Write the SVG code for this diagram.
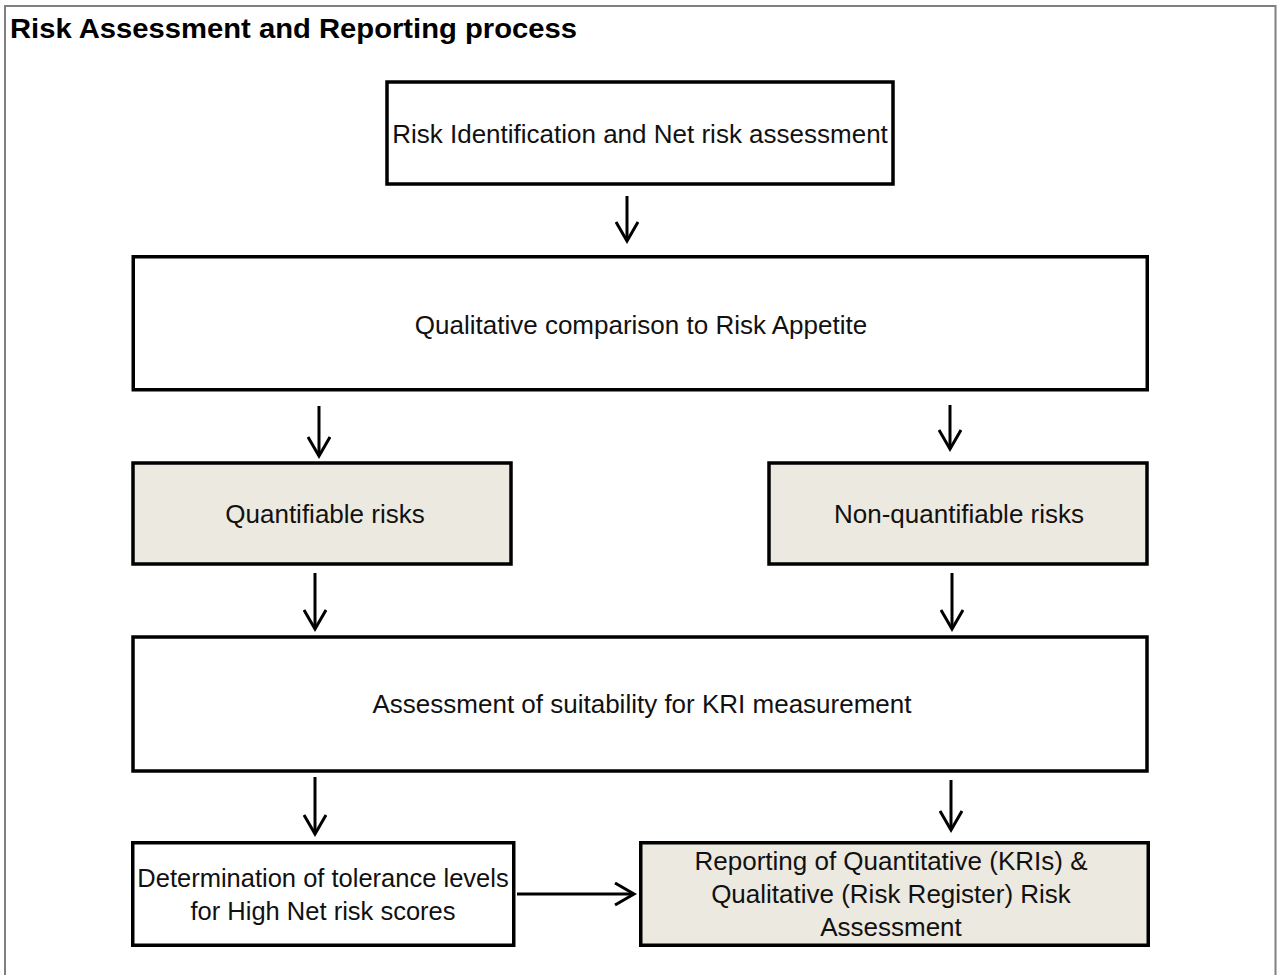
<svg xmlns="http://www.w3.org/2000/svg" width="1277" height="975" viewBox="0 0 1277 975">
<defs>
<style>
.frame{fill:#fff;stroke:#808080;stroke-width:2}
.box{fill:#fff;stroke:#000;stroke-width:3.5}
.shade{fill:#ECE9E0}
.t{font-family:"Liberation Sans",Arial,sans-serif;font-size:26px;fill:#111;text-anchor:middle}
.title{font-family:"Liberation Sans",Arial,sans-serif;font-size:28.5px;font-weight:bold;fill:#000}
.c{stroke:#000;stroke-width:3;fill:none}
</style>
<marker id="ah" viewBox="0 0 24 24" refX="20" refY="12" markerWidth="24" markerHeight="24" markerUnits="userSpaceOnUse" orient="auto">
<path d="M1,1 L20,12 L1,23" fill="none" stroke="#000" stroke-width="3"/>
</marker>
</defs>
<rect x="0" y="0" width="1277" height="975" fill="#fff"/>
<path class="frame" d="M5,980 V6 H1275.5 V980"/>
<text class="title" x="10" y="38" textLength="567" lengthAdjust="spacingAndGlyphs">Risk Assessment and Reporting process</text>
<g id="n1"><rect class="box" x="387" y="82" width="506" height="102"/><text class="t" x="640" y="143">Risk Identification and Net risk assessment</text></g>
<g id="n2"><rect class="box" x="133.25" y="256.75" width="1014" height="133"/><text class="t" x="641" y="334">Qualitative comparison to Risk Appetite</text></g>
<g id="n3"><rect class="box shade" x="133" y="463" width="378" height="101"/><text class="t" x="325" y="523">Quantifiable risks</text></g>
<g id="n4"><rect class="box shade" x="769" y="463" width="378" height="101"/><text class="t" x="959" y="523">Non-quantifiable risks</text></g>
<g id="n5"><rect class="box" x="133" y="637" width="1014" height="134"/><text class="t" x="642" y="713">Assessment of suitability for KRI measurement</text></g>
<g id="n6"><rect class="box" x="132.75" y="842.75" width="381" height="102.5"/><text class="t" x="323" y="887" style="font-size:25.5px">Determination of tolerance levels</text><text class="t" x="323" y="920" style="font-size:25.5px">for High Net risk scores</text></g>
<g id="n7"><rect class="box shade" x="640.75" y="842.75" width="507.5" height="102.5"/><text class="t" x="891" y="870">Reporting of Quantitative (KRIs) &amp;</text><text class="t" x="891" y="903">Qualitative (Risk Register) Risk</text><text class="t" x="891" y="936">Assessment</text></g>
<g id="connectors">
<line class="c" x1="627" y1="196" x2="627" y2="241" marker-end="url(#ah)"/>
<line class="c" x1="319" y1="406" x2="319" y2="456" marker-end="url(#ah)"/>
<line class="c" x1="950" y1="405" x2="950" y2="449" marker-end="url(#ah)"/>
<line class="c" x1="315" y1="573" x2="315" y2="629" marker-end="url(#ah)"/>
<line class="c" x1="952" y1="573" x2="952" y2="629" marker-end="url(#ah)"/>
<line class="c" x1="315" y1="777" x2="315" y2="834" marker-end="url(#ah)"/>
<line class="c" x1="951" y1="780" x2="951" y2="830" marker-end="url(#ah)"/>
<line class="c" x1="517" y1="894" x2="634" y2="894" marker-end="url(#ah)"/>
</g>
</svg>
